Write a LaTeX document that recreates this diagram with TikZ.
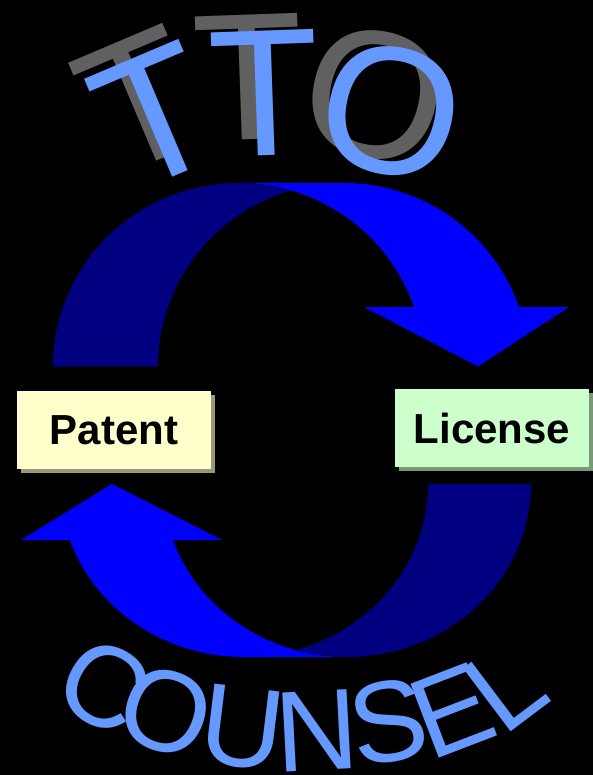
\documentclass[tikz,border=0pt]{standalone}
\usepackage{fontspec}
\setmainfont{Liberation Sans}
\usetikzlibrary{shadows}

\definecolor{letterblue}{HTML}{6699FF}
\definecolor{lettershade}{HTML}{606060}
\definecolor{arrownavy}{HTML}{000080}
\definecolor{arrowblue}{HTML}{0000FF}
\definecolor{patentfill}{HTML}{FFFFCC}
\definecolor{patentshade}{HTML}{999977}
\definecolor{licensefill}{HTML}{CCFFCC}
\definecolor{licenseshade}{HTML}{779977}

\begin{document}
\begin{tikzpicture}[x=1pt, y=-1pt,
    bigletter/.style={inner sep=0pt, font=\fontsize{181}{181}\selectfont},
    smallletter/.style={inner sep=0pt, text=letterblue, font=\fontsize{115}{115}\selectfont},
    stagebox/.style={minimum width=194pt, minimum height=78pt, inner sep=0pt,
        font=\fontsize{42}{42}\selectfont\bfseries}]
    \fill[black] (0,0) rectangle (593,775);

    % upper arrow, Patent -> License
    \fill[arrowblue] (478,366.5) -- (364,307) -- (414,307)
        arc[start angle=341.1, end angle=270, x radius=185.5, y radius=183.5]
        -- (343.5,183)
        arc[start angle=270, end angle=341.1, x radius=185.5, y radius=183.5]
        -- (569,307) -- cycle;
    \fill[arrownavy] (291,190.5)
        arc[start angle=253.56, end angle=180, x radius=185.5, y radius=183.5]
        -- (53,366.5)
        arc[start angle=180, end angle=286.44, x radius=185.5, y radius=183.5] -- cycle;

    % lower arrow, License -> Patent
    \fill[arrowblue] (112,484) -- (222,540) -- (173,540)
        arc[start angle=161.1, end angle=90, x radius=184, y radius=173]
        -- (244,657)
        arc[start angle=90, end angle=161.1, x radius=184, y radius=173]
        -- (21,540) -- cycle;
    \fill[arrownavy] (295.5,650.1)
        arc[start angle=73.74, end angle=0, x radius=184, y radius=173]
        -- (531,484)
        arc[start angle=0, end angle=106.26, x radius=184, y radius=173] -- cycle;

    % the two stages
    \node[stagebox, fill=patentfill,
        drop shadow={shadow xshift=4pt, shadow yshift=-4pt, fill=patentshade, opacity=1}]
        (patent) at (114,430) {Patent};
    \node[stagebox, fill=licensefill,
        drop shadow={shadow xshift=4pt, shadow yshift=-4pt, fill=licenseshade, opacity=1}]
        (license) at (492,428) {License};

    % TTO with its shadow
    \node[bigletter, text=lettershade, rotate=23] (tShadeA) at (140,101) {T};
    \node[bigletter, text=lettershade, rotate=2] (tShadeB) at (249,77) {T};
    \node[bigletter, text=lettershade, rotate=-12] (oShade) at (375,95) {O};
    \node[bigletter, text=letterblue, rotate=23] (tA) at (156,117) {T};
    \node[bigletter, text=letterblue, rotate=2] (tB) at (265,93) {T};
    \node[bigletter, text=letterblue, rotate=-12] (oTop) at (391,111) {O};

    % COUNSEL
    \node[smallletter, rotate=-30] (cLow) at (104,686) {C};
    \node[smallletter, rotate=-20] (oLow) at (166,712) {O};
    \node[smallletter, rotate=-7] (uLow) at (242,728) {U};
    \node[smallletter, rotate=3] (nLow) at (317,731) {N};
    \node[smallletter, rotate=10] (sLow) at (388,722) {S};
    \node[smallletter, rotate=21] (eLow) at (452,711) {E};
    \node[smallletter, rotate=37] (lLow) at (505,687) {L};
\end{tikzpicture}
\end{document}
